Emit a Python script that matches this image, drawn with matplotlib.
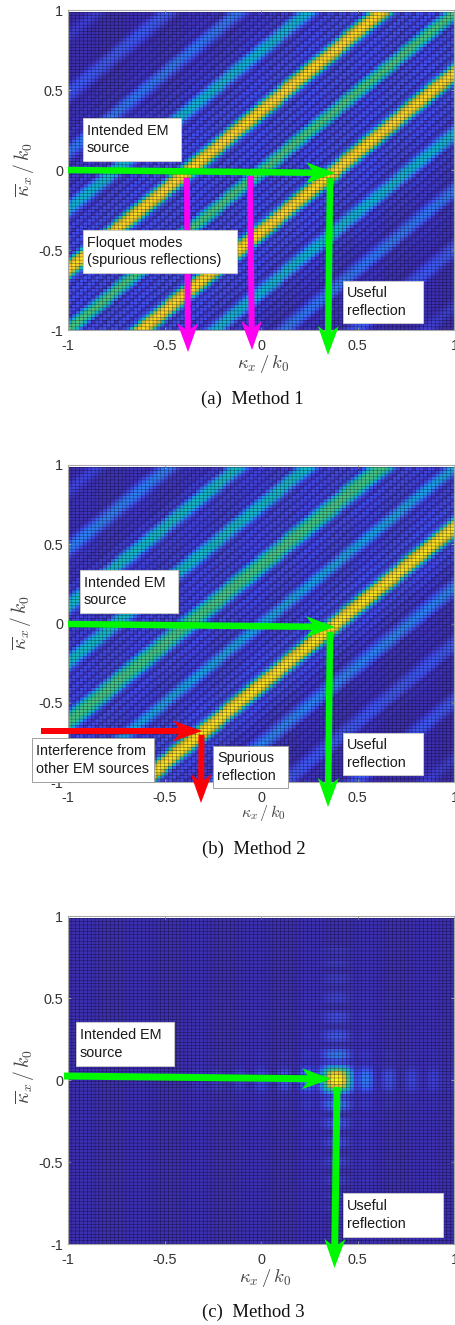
import numpy as np
import matplotlib
matplotlib.use('Agg')
import matplotlib.pyplot as plt
from matplotlib.colors import LinearSegmentedColormap
from matplotlib.patches import Polygon, Rectangle

plt.rcParams['font.family'] = ['Liberation Sans', 'DejaVu Sans']
plt.rcParams['mathtext.fontset'] = 'cm'

tick_values = [-1, -0.5, 0, 0.5, 1]
tick_labels = ['-1', '-0.5', '0', '0.5', '1']

# level read across the diagonals, one entry per cell away from the main diagonal
method1_profile = [.60, .54, .40, .18, .05, .11, .12, .05, .12, .13,
                   .05, .12, .13, .05, .10, .16, .42, .72, .88, .93,
                   .88, .72, .42, .16, .06, .11, .13, .05, .11, .12,
                   .04, .10, .11, .04, .08, .14, .26, .36, .40, .36,
                   .26, .13, .04, .08, .09, .03, .07, .08, .03, .06,
                   .07, .03, .05, .09, .15, .20, .22, .20, .14, .06,
                   .03, .05, .06, .02, .04, .05, .02, .04, .04, .02,
                   .03, .06, .10, .13, .15, .15, .13, .08, .04, .02,
                   .03, .03, .02, .03, .03, .02, .03, .03, .02, .03,
                   .04, .06, .08, .08, .06, .04, .02, .02, .02, .02]
method2_upper = [.34, .30, .20, .10, .05, .09, .10, .04, .10, .11,
                 .05, .11, .12, .05, .09, .16, .34, .50, .56, .58,
                 .56, .50, .34, .16, .06, .10, .11, .05, .10, .11,
                 .05, .10, .11, .05, .09, .16, .30, .40, .43, .40,
                 .30, .16, .05, .09, .09, .04, .08, .09, .05, .09,
                 .09, .05, .09, .16, .30, .40, .43, .40, .30, .15,
                 .05, .08, .08, .03, .05, .06, .03, .05, .06, .04,
                 .06, .10, .17, .22, .24, .22, .17, .10, .05, .03,
                 .04, .04, .03, .04, .04, .03, .04, .04, .03, .04,
                 .06, .08, .10, .10, .08, .05, .03, .03, .02, .02]
method2_lower = [.34, .28, .18, .09, .05, .09, .10, .04, .10, .12,
                 .05, .11, .13, .06, .10, .18, .46, .76, .90, .95,
                 .92, .76, .46, .18, .07, .11, .12, .05, .09, .10,
                 .03, .07, .08, .03, .06, .11, .17, .22, .25, .22,
                 .17, .10, .03, .05, .05, .02, .04, .05, .02, .04,
                 .04, .02, .04, .07, .11, .14, .15, .14, .11, .06,
                 .02, .04, .04, .02, .03, .03, .02, .03, .03, .02,
                 .03, .06, .10, .13, .15, .14, .11, .06, .03, .02,
                 .02, .02, .02, .02, .02, .02, .02, .02, .02, .03,
                 .04, .06, .08, .08, .06, .04, .02, .02, .02, .02]

# method 3: level against distance from the peak, one entry per cell
method3_across = [1.0, .97, .84, .58, .30, .10, .12, .20, .20, .14,
                  .04, .02, .07, .11, .11, .06, .01, .02, .05, .08,
                  .08, .04, .01, .01, .04, .06, .05, .02, .01, .01,
                  .03, .04, .03, .01, .01, .02, .02, .01, 0, 0]
method3_along = [1.0, .97, .84, .58, .30, .10, .12, .20, .20, .14,
                 .04, .02, .08, .12, .12, .07, .01, .03, .07, .09,
                 .09, .04, .01, .02, .05, .07, .06, .03, .01, .02,
                 .04, .05, .04, .01, .01, .03, .04, .02, .01, .02,
                 .03, .01, 0, 0]
method3_peak_cell = (69, 50)
method3_floor = 0.03

parula = LinearSegmentedColormap.from_list('parula', [
    (0.00, (.2300, .1500, .6200)), (0.12, (.2600, .3000, .9300)),
    (0.25, (.1786, .5289, .9682)), (0.38, (.0689, .6948, .8394)),
    (0.50, (.1500, .7400, .6500)), (0.62, (.3500, .7800, .4500)),
    (0.75, (.7200, .7600, .2200)), (0.87, (.9700, .7600, .2000)),
    (1.00, (.9769, .9839, .0805))])

x_edges = np.linspace(-1, 1, 101)
y_edges = np.linspace(-1, 0.985, 101)
J, I = np.indices((100, 100))


def look(table, cells):
    return np.asarray(table)[np.minimum(np.abs(cells), len(table) - 1)]


def diagonal_cells(upper, lower):
    k = J - I
    return np.where(k >= 0, look(upper, k), look(lower, k))


def cross_cells():
    a = look(method3_across, I - method3_peak_cell[0])
    b = look(method3_along, J - method3_peak_cell[1])
    return method3_floor + (1 - method3_floor) * a * b


def panel(fig, top, bottom, cells):
    ax = fig.add_axes([68 / 456, 1 - bottom / 1325, 386.5 / 456, (bottom - top) / 1325])
    ax.pcolormesh(x_edges, y_edges, cells, cmap=parula, vmin=0, vmax=1, shading='flat')
    # thin mesh lines, not snapped so they fade in and out like the original
    ax.vlines(x_edges, y_edges[0], y_edges[-1], color='black', alpha=0.55, lw=0.35, snap=False)
    ax.hlines(y_edges, x_edges[0], x_edges[-1], color='black', alpha=0.55, lw=0.35, snap=False)
    ax.set_xlim(-1, 1)
    ax.set_ylim(-1, 1)
    ax.set_xticks(tick_values, tick_labels)
    ax.set_yticks(tick_values, tick_labels)
    ax.tick_params(direction='in', top=True, right=True, length=2.5, width=0.7,
                   color='#a0a0a0', labelcolor='#333333', labelsize=10.4)
    ax.tick_params(axis='x', pad=6.5)
    ax.tick_params(axis='y', pad=3.5)
    for s in ax.spines.values():
        s.set_color('#a8a8a8')
        s.set_linewidth(0.8)
    return ax


def arrow(ov, x0, y0, x1, y1, color, width=6.5, head=29, half=10.5):
    d = np.array([x1 - x0, y1 - y0], dtype=float)
    d /= np.hypot(*d)
    n = np.array([-d[1], d[0]])
    tip = np.array([x1, y1], dtype=float)
    neck = tip - d * head * 0.72
    start = np.array([x0, y0], dtype=float)
    w = width / 2
    ov.add_patch(Polygon([start + n * w, neck + n * w, neck - n * w, start - n * w],
                         closed=True, fc=color, ec='none'))
    ov.add_patch(Polygon([tip, tip - d * head + n * half, neck, tip - d * head - n * half],
                         closed=True, fc=color, ec='none'))


def box(ov, x0, y0, x1, y1, text, edge='#c8c8c8', pad=4):
    ov.add_patch(Rectangle((x0, y0), x1 - x0, y1 - y0, fc='white', ec=edge, lw=0.7))
    ov.text(x0 + pad, (y0 + y1) / 2, text, fontsize=10.4, color='#1a1a1a', ha='left',
            va='center', linespacing=1.3)


def xlabel(ov, x, y, size):
    ov.text(x, y, r'$\kappa_x\,/\,k_0$', fontsize=size, color='#444444', ha='center', va='top')


def ylabel(ov, x, y):
    ov.text(x, y, r'$\overline{\kappa}_x\,/\,k_0$', fontsize=14, color='#444444', ha='center',
            va='center', rotation=90)


def caption(ov, x, y, text):
    ov.text(x, y, text, fontsize=13.5, family='Liberation Serif', color='#111111',
            ha='center', va='center')


fig = plt.figure(figsize=(4.56, 13.25), dpi=100)
panel(fig, 10, 330, diagonal_cells(method1_profile, method1_profile))
panel(fig, 465, 782, diagonal_cells(method2_upper, method2_lower))
panel(fig, 916, 1244, cross_cells())

# annotations are laid out in image pixels on a full size overlay
ov = fig.add_axes([0, 0, 1, 1], zorder=5)
ov.set_xlim(0, 456)
ov.set_ylim(1325, 0)
ov.axis('off')

green = '#00f800'
magenta = '#ff00f0'
red = '#fb0007'

# (a)
arrow(ov, 187, 178, 188, 352, magenta, width=6)
arrow(ov, 250, 176, 252, 350, magenta, width=6)
arrow(ov, 68, 170, 335, 173, green)
arrow(ov, 330, 178, 328, 355, green)
box(ov, 83, 118, 181, 161, 'Intended EM\nsource')
box(ov, 83, 230, 237, 273, 'Floquet modes\n(spurious reflections)')
box(ov, 343, 281, 423, 323, 'Useful\nreflection')
xlabel(ov, 263, 353, 13.5)
ylabel(ov, 24, 170)
caption(ov, 252, 399, '(a)  Method 1')

# (b)
arrow(ov, 68, 624, 335, 627, green)
arrow(ov, 330, 632, 328, 807, green)
arrow(ov, 41, 731, 202, 731, red)
arrow(ov, 201.5, 735, 201, 803, red, width=6)
box(ov, 80, 570, 178, 613, 'Intended EM\nsource')
box(ov, 32, 738, 154, 782, 'Interference from\nother EM sources', edge='#a0a0a0')
box(ov, 213, 746, 288, 788, 'Spurious\nreflection', edge='#a0a0a0')
box(ov, 343, 733, 423, 775, 'Useful\nreflection')
xlabel(ov, 263, 803, 11.5)
ylabel(ov, 21, 623)
caption(ov, 254, 849, '(b)  Method 2')

# (c)
arrow(ov, 64, 1076, 331, 1079, green, width=7)
arrow(ov, 337, 1087, 334.5, 1268, green, width=7)
box(ov, 76, 1022, 174, 1066, 'Intended EM\nsource')
box(ov, 343, 1193, 443, 1237, 'Useful\nreflection')
xlabel(ov, 265, 1267, 13.5)
ylabel(ov, 24, 1077)
caption(ov, 253, 1312, '(c)  Method 3')

fig.savefig('out.png', dpi=100)
plt.close(fig)
